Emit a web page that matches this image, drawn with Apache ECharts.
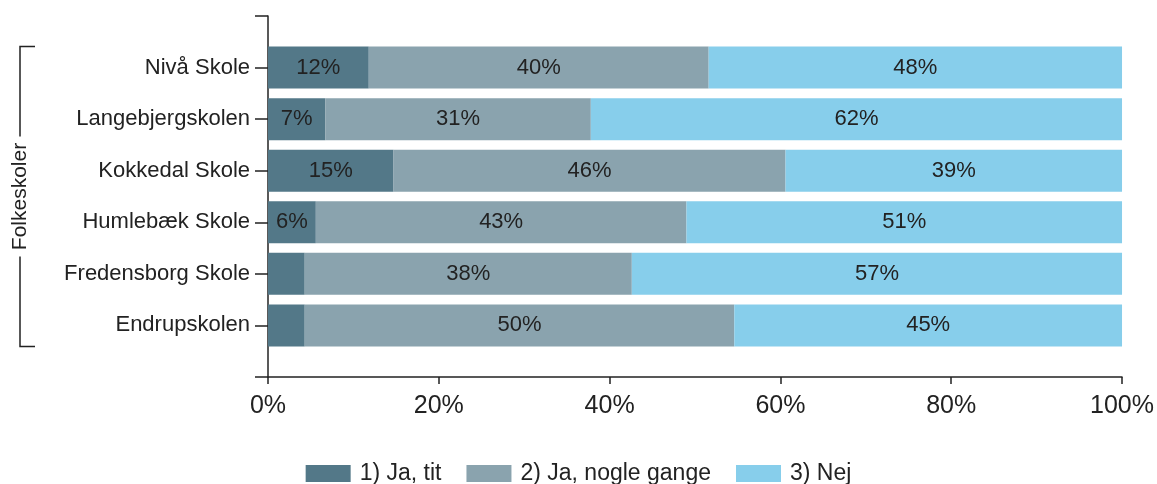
<!DOCTYPE html>
<html>
<head>
<meta charset="utf-8">
<script src="https://cdn.jsdelivr.net/npm/echarts@6/dist/echarts.min.js"></script>
<style>
html,body{margin:0;padding:0;background:#fff;}
#chart{width:1157px;height:484px;}
</style>
</head>
<body>
<div id="chart"></div>
<script>
// Categories (top to bottom); '' entries are padding slots at the ends of the axis
const categories = ['', 'Nivå Skole', 'Langebjergskolen', 'Kokkedal Skole', 'Humlebæk Skole', 'Fredensborg Skole', 'Endrupskolen', ''];
const seriesNames = ['1) Ja, tit', '2) Ja, nogle gange', '3) Nej'];
const jaTit = ['-', 11.8, 6.7, 14.7, 5.6, 4.3, 4.3, '-'];
const jaNogleGange = ['-', 39.8, 31.1, 45.9, 43.4, 38.3, 50.3, '-'];
const nej = ['-', 48.4, 62.2, 39.4, 51.0, 57.4, 45.4, '-'];
const xTicks = [0, 20, 40, 60, 80, 100];
const groupLabel = 'Folkeskoler';
const colors = ['#537888', '#8aa3ae', '#87ceeb'];

const FONT = '"Liberation Sans", Arial, sans-serif';
const chart = echarts.init(document.getElementById('chart'), null, {renderer: 'canvas'});

function mkSeries(name, data, i) {
  return {
    name: name,
    type: 'bar',
    stack: 'total',
    data: data,
    barWidth: 42,
    itemStyle: {color: colors[i]},
    label: {
      show: true,
      position: 'inside',
      color: '#222',
      fontFamily: FONT,
      fontSize: 22,
      formatter: p => (typeof p.value === 'number' && p.value >= 5) ? Math.round(p.value) + '%' : ''
    },
    emphasis: {disabled: true}
  };
}

const option = {
  animation: false,
  color: colors,
  grid: {left: 268, right: 34, top: 16, bottom: 107, containLabel: false},
  legend: {
    data: seriesNames,
    top: 457,
    left: 'center',
    icon: 'rect',
    itemWidth: 45,
    itemHeight: 17,
    itemGap: 25,
    textStyle: {fontFamily: FONT, fontSize: 23, color: '#222', padding: [0, 0, 0, 4]}
  },
  xAxis: {
    type: 'value',
    min: xTicks[0],
    max: xTicks[xTicks.length - 1],
    interval: xTicks[1] - xTicks[0],
    axisLine: {show: true, lineStyle: {color: '#222', width: 1.5}},
    axisTick: {show: true, length: 7, lineStyle: {color: '#222', width: 1.5}},
    splitLine: {show: false},
    axisLabel: {fontFamily: FONT, fontSize: 25, color: '#222', margin: 17, formatter: '{value}%'}
  },
  yAxis: {
    type: 'category',
    data: categories,
    inverse: true,
    boundaryGap: false,
    axisLine: {show: true, lineStyle: {color: '#222', width: 1.5}},
    axisTick: {show: true, length: 13, lineStyle: {color: '#222', width: 1.5}},
    splitLine: {show: false},
    axisLabel: {fontFamily: FONT, fontSize: 22, color: '#222', margin: 18}
  },
  series: [
    mkSeries(seriesNames[0], jaTit, 0),
    mkSeries(seriesNames[1], jaNogleGange, 1),
    mkSeries(seriesNames[2], nej, 2)
  ]
};
chart.setOption(option);

// Group bracket spanning the first to last real category
const yTop = chart.convertToPixel({yAxisIndex: 0}, categories[1]) - 21;
const yBot = chart.convertToPixel({yAxisIndex: 0}, categories[categories.length - 2]) + 21;
const yMid = (yTop + yBot) / 2;
const bx = 20, hx = 35, gap = 60;
chart.setOption({
  graphic: [
    {type: 'polyline', shape: {points: [[hx, yTop], [bx, yTop], [bx, yMid - gap]]}, style: {stroke: '#222', lineWidth: 1.5, fill: null}, silent: true},
    {type: 'polyline', shape: {points: [[bx, yMid + gap], [bx, yBot], [hx, yBot]]}, style: {stroke: '#222', lineWidth: 1.5, fill: null}, silent: true},
    {type: 'text', x: bx, y: yMid, rotation: Math.PI / 2, style: {text: groupLabel, font: '21px ' + FONT, fill: '#222', textAlign: 'center', textVerticalAlign: 'middle'}, silent: true}
  ]
});
</script>
</body>
</html>
